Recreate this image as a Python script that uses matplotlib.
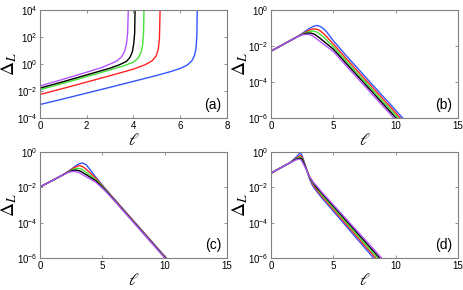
import numpy as np
import matplotlib
matplotlib.use('Agg')
import matplotlib.pyplot as plt
from matplotlib.ticker import FixedLocator, NullLocator

plt.rcParams['font.family'] = ['Liberation Sans', 'DejaVu Sans']
plt.rcParams['mathtext.fontset'] = 'stix'

colors = ['#3355ff', '#ff2222', '#44e033', '#000000', '#b455ff']  # blue, red, green, black, violet

# panel (a): log10(Delta_L)
a_l = [
    [0, 1, 2, 3, 4, 5, 5.6, 6.0, 6.3, 6.5, 6.6, 6.67, 6.71, 6.73],
    [0, 1, 2, 3, 4, 4.5, 4.8, 4.97, 5.06, 5.11, 5.14],
    [0, 1, 2, 3, 3.6, 4.0, 4.2, 4.32, 4.39, 4.43, 4.45],
    [0, 1, 2, 3, 3.4, 3.7, 3.85, 3.95, 4.01, 4.05, 4.07],
    [0, 1, 2, 2.6, 3.0, 3.3, 3.5, 3.62, 3.7, 3.75, 3.78],
]
a_logd = [
    [-3.0, -2.58, -2.15, -1.72, -1.28, -0.84, -0.55, -0.32, -0.08, 0.25, 0.6, 1.1, 2.0, 4.2],
    [-2.25, -1.8, -1.33, -0.86, -0.37, -0.05, 0.25, 0.6, 1.1, 1.9, 4.2],
    [-1.9, -1.42, -0.93, -0.43, -0.12, 0.15, 0.45, 0.85, 1.4, 2.3, 4.2],
    [-1.78, -1.3, -0.8, -0.3, -0.05, 0.2, 0.5, 0.9, 1.5, 2.3, 4.2],
    [-1.62, -1.12, -0.6, -0.28, 0.0, 0.25, 0.55, 0.95, 1.5, 2.3, 4.2],
]

# panel (b)
b_l = [
    [0, 1, 2, 2.5, 3.0, 3.4, 3.7, 4.0, 4.4, 5.0, 6, 8, 11],
    [0, 1, 2, 2.5, 3.0, 3.3, 3.55, 3.85, 4.3, 5.0, 6, 8, 11],
    [0, 1, 2, 2.5, 3.0, 3.35, 3.7, 4.2, 5.0, 6, 8, 11],
    [0, 1, 2, 2.5, 2.85, 3.15, 3.5, 4.0, 5.0, 6, 8, 11],
    [0, 1, 2, 2.5, 2.95, 3.3, 3.8, 5.0, 6, 8, 11],
]
b_logd = [
    [-2.28, -1.9, -1.52, -1.3, -1.05, -0.9, -0.85, -0.92, -1.15, -1.7, -2.5, -4.04, -6.33],
    [-2.28, -1.9, -1.52, -1.33, -1.13, -1.06, -1.04, -1.1, -1.35, -1.88, -2.67, -4.19, -6.47],
    [-2.28, -1.9, -1.52, -1.35, -1.2, -1.16, -1.22, -1.48, -2.03, -2.81, -4.33, -6.6],
    [-2.28, -1.9, -1.52, -1.36, -1.29, -1.27, -1.34, -1.6, -2.17, -2.94, -4.46, -6.74],
    [-2.28, -1.9, -1.52, -1.37, -1.34, -1.4, -1.67, -2.3, -3.07, -4.59, -6.87],
]

# panel (c)
c_l = [
    [0, 1, 1.8, 2.3, 2.8, 3.1, 3.4, 3.7, 4.0, 4.5, 5.2, 6, 8, 10.6],
    [0, 1, 1.8, 2.3, 2.7, 3.0, 3.2, 3.5, 3.9, 4.5, 5.2, 6, 8, 10.6],
    [0, 1, 1.8, 2.3, 2.65, 3.0, 3.3, 3.8, 4.5, 5.2, 6, 8, 10.6],
    [0, 1, 1.8, 2.3, 2.6, 2.87, 3.2, 3.7, 4.5, 5.2, 6, 8, 10.6],
    [0, 1, 1.8, 2.3, 2.55, 2.74, 3.1, 3.6, 4.5, 5.2, 6, 8, 10.6],
]
c_logd = [
    [-1.98, -1.61, -1.31, -1.08, -0.82, -0.68, -0.62, -0.72, -0.98, -1.45, -2.04, -2.69, -4.29, -6.37],
    [-1.98, -1.61, -1.31, -1.1, -0.9, -0.8, -0.77, -0.86, -1.1, -1.5, -2.07, -2.71, -4.31, -6.39],
    [-1.98, -1.61, -1.31, -1.12, -0.98, -0.92, -0.96, -1.2, -1.57, -2.1, -2.74, -4.34, -6.42],
    [-1.98, -1.61, -1.31, -1.13, -1.05, -1.02, -1.07, -1.28, -1.64, -2.14, -2.76, -4.36, -6.44],
    [-1.98, -1.61, -1.31, -1.14, -1.11, -1.1, -1.15, -1.36, -1.72, -2.18, -2.78, -4.38, -6.46],
]

# panel (d)
d_l = [
    [0, 1, 1.5, 2.0, 2.25, 2.38, 2.5, 2.8, 3.1, 3.3, 3.5, 4, 6, 8.5],
    [0, 1, 1.5, 2.0, 2.25, 2.37, 2.5, 2.8, 3.1, 3.3, 3.55, 4, 6, 8.6],
    [0, 1, 1.5, 2.0, 2.25, 2.37, 2.5, 2.8, 3.1, 3.35, 3.6, 4, 6, 8.8],
    [0, 1, 1.5, 2.0, 2.25, 2.37, 2.5, 2.8, 3.1, 3.4, 3.65, 4, 6, 8.9],
    [0, 1, 1.5, 2.0, 2.3, 2.45, 2.8, 3.1, 3.4, 3.7, 4, 6, 9],
]
d_logd = [
    [-1.2, -0.81, -0.62, -0.3, -0.12, -0.07, -0.2, -0.85, -1.55, -1.85, -2.08, -2.53, -4.17, -6.22],
    [-1.2, -0.81, -0.62, -0.38, -0.24, -0.2, -0.3, -0.88, -1.47, -1.75, -2.05, -2.44, -4.06, -6.16],
    [-1.2, -0.81, -0.62, -0.4, -0.3, -0.29, -0.37, -0.9, -1.45, -1.75, -2.0, -2.36, -3.96, -6.2],
    [-1.2, -0.81, -0.62, -0.42, -0.36, -0.35, -0.42, -0.92, -1.42, -1.75, -2.0, -2.27, -3.85, -6.14],
    [-1.2, -0.81, -0.62, -0.45, -0.4, -0.48, -0.95, -1.4, -1.72, -1.95, -2.21, -3.76, -6.09],
]

panels = [
    ('(a)', a_l, a_logd, [0.0862, 0.593, 0.403, 0.372], (0, 8), [0, 2, 4, 6, 8], (1e-4, 1e4), [1e-4, 1e-2, 1e0, 1e2, 1e4]),
    ('(b)', b_l, b_logd, [0.584, 0.593, 0.403, 0.372], (0, 15), [0, 5, 10, 15], (1e-6, 1e0), [1e-6, 1e-4, 1e-2, 1e0]),
    ('(c)', c_l, c_logd, [0.0862, 0.110, 0.403, 0.366], (0, 15), [0, 5, 10, 15], (1e-6, 1e0), [1e-6, 1e-4, 1e-2, 1e0]),
    ('(d)', d_l, d_logd, [0.584, 0.110, 0.403, 0.366], (0, 15), [0, 5, 10, 15], (1e-6, 1e0), [1e-6, 1e-4, 1e-2, 1e0]),
]

fig = plt.figure(figsize=(4.64, 2.90), dpi=100)
for tag, ls, ds, pos, xl, xt, yl, yt in panels:
    ax = fig.add_axes(pos)
    for l, d, c in zip(ls, ds, colors):
        ax.plot(l, 10.0 ** np.array(d), color=c, lw=1.0)
    ax.set_yscale('log')
    ax.set_xlim(*xl)
    ax.set_ylim(*yl)
    ax.set_xticks(xt)
    ax.yaxis.set_major_locator(FixedLocator(yt))
    ax.yaxis.set_minor_locator(NullLocator())
    ax.tick_params(direction='in', top=True, right=True, labelsize=7, length=2.5,
                   width=0.6, color='0.5', pad=2)
    for s in ax.spines.values():
        s.set_color('0.5')
        s.set_linewidth(0.8)
    ax.set_xlabel(r'$\ell$', fontsize=12)
    ax.xaxis.set_label_coords(0.5, -0.13)
    ax.set_ylabel(r'$\Delta_L$', fontsize=14)
    ax.yaxis.set_label_coords(-0.11, 0.5)
    ax.text(0.97, 0.06, tag, transform=ax.transAxes, ha='right', va='bottom', fontsize=10)

fig.savefig('out.png', dpi=100)
